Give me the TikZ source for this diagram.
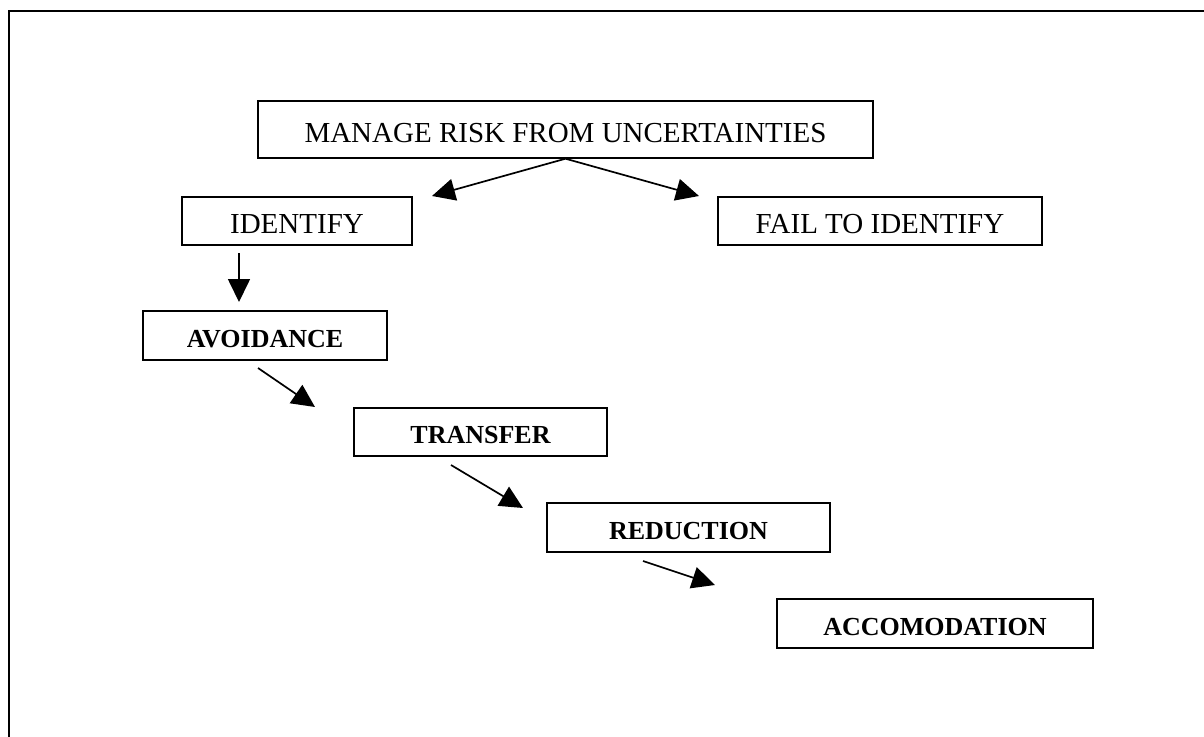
\documentclass[tikz,border=0pt]{standalone}
\usepackage{fontspec}
\setmainfont{Liberation Serif}
\usetikzlibrary{arrows.meta}
\tikzset{
  box/.style={draw=black, line width=1.4pt, rectangle, inner sep=0pt, align=center, text depth=0pt},
  plainbox/.style={box, font=\fontsize{29}{33}\selectfont, text height=25pt},
  boldbox/.style={box, font=\fontsize{26}{30}\selectfont\bfseries, text height=23pt},
  arr/.style={line width=1.7pt, -{Triangle[length=23pt,width=22pt]}},
  frame/.style={line width=2.8pt}
}
\begin{document}
\begin{tikzpicture}[x=1pt,y=-1pt]
\useasboundingbox (0,0) rectangle (1204,736);
\fill[white] (0,0) rectangle (1204,736);
\draw[frame] (9,737) -- (9,11) -- (1205,11);

\node[plainbox, minimum width=615pt, minimum height=57pt] (m) at (565.5,129.5) {MANAGE RISK FROM UNCERTAINTIES};
\node[plainbox, minimum width=230pt, minimum height=48pt] (id) at (297,221) {IDENTIFY};
\node[plainbox, minimum width=324pt, minimum height=48pt] (fail) at (880,221) {FAIL TO IDENTIFY};
\node[boldbox, minimum width=244pt, minimum height=49pt] (av) at (265,335.5) {AVOIDANCE};
\node[boldbox, minimum width=253pt, minimum height=48pt] (tr) at (480.5,432) {TRANSFER};
\node[boldbox, minimum width=283pt, minimum height=49pt] (re) at (688.5,527.5) {REDUCTION};
\node[boldbox, minimum width=316pt, minimum height=49pt] (ac) at (935,623.5) {ACCOMODATION};

\coordinate (t1) at (432,196);
\coordinate (t2) at (699,196);
\coordinate (s3) at (239,253);
\coordinate (t3) at (239,302);
\coordinate (s4) at (258,368);
\coordinate (t4) at (315,407);
\coordinate (s5) at (451,465);
\coordinate (t5) at (523,508);
\coordinate (s6) at (643,561);
\coordinate (t6) at (715,585);

\draw[arr] (m.south) -- (t1);
\draw[arr] (m.south) -- (t2);
\draw[arr] (s3) -- (t3);
\draw[arr] (s4) -- (t4);
\draw[arr] (s5) -- (t5);
\draw[arr] (s6) -- (t6);
\end{tikzpicture}
\end{document}
